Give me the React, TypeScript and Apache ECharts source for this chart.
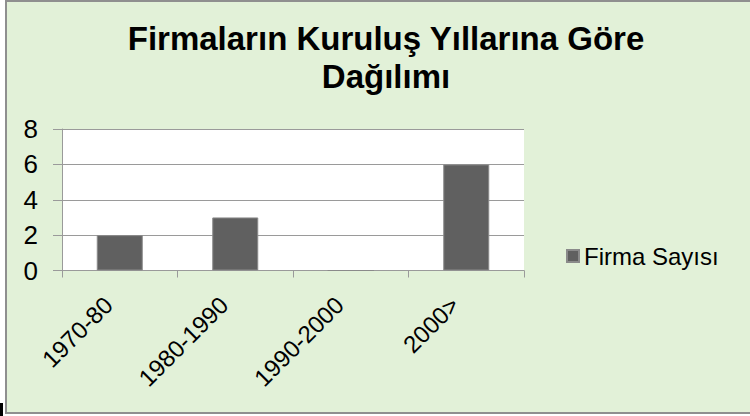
import React, { useEffect, useRef } from "react";
import * as echarts from "echarts";

const categories = ["1970-80", "1980-1990", "1990-2000", "2000>"];
const firmaSayisi = [2, 3, 0, 6];
const seriesName = "Firma Sayısı";
const titleText = "Firmaların Kuruluş Yıllarına Göre\nDağılımı";
const yMin = 0;
const yMax = 8;
const yInterval = 2;

const FONT = "'Liberation Sans', Arial, sans-serif";

export default function App() {
  const ref = useRef<HTMLDivElement>(null);
  useEffect(() => {
    if (!ref.current) return;
    const chart = echarts.init(ref.current, null, { renderer: "svg" });
    chart.setOption({
      animation: false,
      backgroundColor: "#ffffff",
      graphic: [
        {
          type: "rect",
          z: -100,
          shape: { x: 6, y: 1, width: 760, height: 412 },
          style: { fill: "#E2F1D8", stroke: "#8f8f8f", lineWidth: 2 },
        },
        {
          type: "rect",
          z: -100,
          shape: { x: 0, y: 403, width: 3, height: 13 },
          style: { fill: "#000000" },
        },
      ],
      title: {
        text: titleText,
        left: 381,
        top: 14,
        textAlign: "center",
        textStyle: {
          fontFamily: FONT,
          fontWeight: "bold",
          fontSize: 33,
          lineHeight: 38,
          color: "#000000",
        },
      },
      legend: {
        data: [seriesName],
        left: 561,
        top: 239,
        icon: "rect",
        itemWidth: 12,
        itemHeight: 12,
        itemGap: 6,
        textStyle: { fontFamily: FONT, fontSize: 24, color: "#000000" },
      },
      grid: {
        left: 62,
        right: 226,
        top: 129,
        bottom: 145.5,
        show: true,
        backgroundColor: "#ffffff",
        borderWidth: 0,
        containLabel: false,
      },
      xAxis: {
        type: "category",
        data: categories,
        axisLine: { show: true, lineStyle: { color: "#9a9a9a", width: 1 } },
        axisTick: { show: true, length: 7, alignWithLabel: false, lineStyle: { color: "#9a9a9a" } },
        axisLabel: {
          rotate: 45,
          margin: 19,
          padding: [0, 16, 0, 0],
          fontFamily: FONT,
          fontSize: 24,
          color: "#000000",
          interval: 0,
        },
      },
      yAxis: {
        type: "value",
        min: yMin,
        max: yMax,
        interval: yInterval,
        axisLine: { show: true, lineStyle: { color: "#9a9a9a", width: 1 } },
        axisTick: { show: true, length: 9, lineStyle: { color: "#9a9a9a" } },
        splitLine: { show: true, lineStyle: { color: "#9a9a9a", width: 1 } },
        axisLabel: {
          margin: 24,
          fontFamily: FONT,
          fontSize: 26,
          color: "#000000",
        },
      },
      series: [
        {
          name: seriesName,
          type: "bar",
          data: firmaSayisi,
          barWidth: 46,
          itemStyle: { color: "#606060", borderColor: "#8a8a8a", borderWidth: 1 },
        },
      ],
    });
    return () => chart.dispose();
  }, []);
  return (
    <div
      ref={ref}
      style={{ position: "fixed", left: 0, top: 0, width: 750, height: 416 }}
    />
  );
}
